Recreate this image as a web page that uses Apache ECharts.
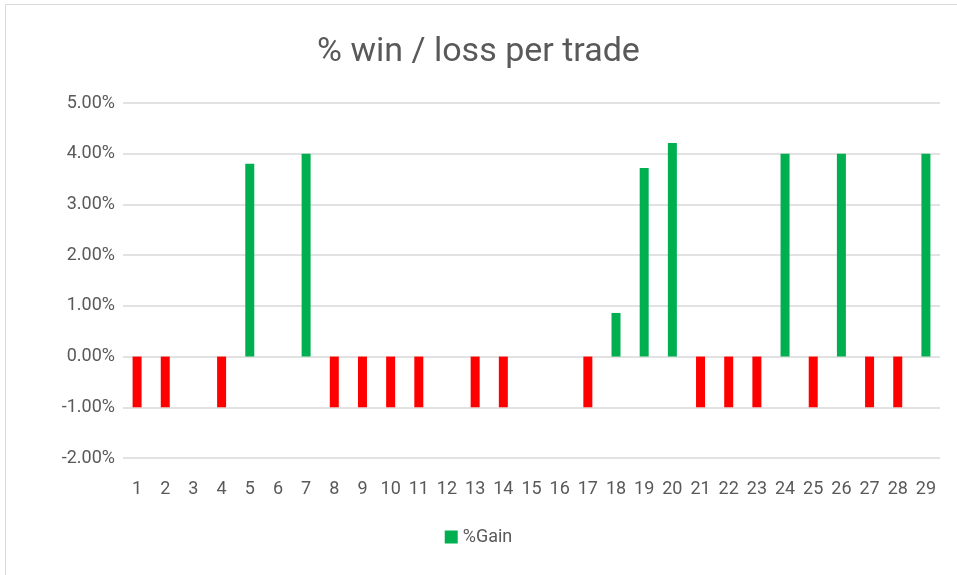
<!DOCTYPE html>
<html>
<head>
<meta charset="utf-8">
<script src="https://cdn.jsdelivr.net/npm/echarts@6/dist/echarts.min.js"></script>
<style>
  html, body { margin: 0; padding: 0; background: #fff; }
  #main { width: 957px; height: 575px; }
</style>
</head>
<body>
<div id="main"></div>
<script>
// trade numbers
const trades = ['1','2','3','4','5','6','7','8','9','10','11','12','13','14','15',
  '16','17','18','19','20','21','22','23','24','25','26','27','28','29'];
// % gain per trade
const gain = [-1, -1, 0, -1, 3.8, 0, 4.0, -1, -1, -1, -1, 0, -1, -1, 0,
  0, -1, 0.86, 3.72, 4.21, -1, -1, -1, 4.0, -1, 4.0, -1, -1, 4.0];

const chart = echarts.init(document.getElementById('main'));

chart.setOption({
  animation: false,
  textStyle: { fontFamily: 'Roboto, sans-serif' },
  title: {
    text: '% win / loss per trade',
    left: 'center',
    top: 30,
    textStyle: { fontSize: 34, fontWeight: 'normal', color: '#595959', fontFamily: 'Roboto, sans-serif' }
  },
  graphic: [{
    type: 'rect',
    shape: { x: 5.5, y: 4.5, width: 960, height: 580 },
    style: { fill: 'none', stroke: '#d9d9d9', lineWidth: 1 },
    silent: true
  }],
  legend: {
    bottom: 24,
    left: 'center',
    itemWidth: 13,
    itemHeight: 13,
    itemGap: 8,
    icon: 'rect',
    textStyle: { fontSize: 18, color: '#595959' },
    data: ['%Gain']
  },
  grid: { left: 123, right: 17, top: 103, bottom: 117 },
  xAxis: {
    type: 'category',
    data: trades,
    axisLine: { show: false },
    axisTick: { show: false },
    axisLabel: { interval: 0, fontSize: 18, color: '#595959', margin: 22 }
  },
  yAxis: {
    type: 'value',
    min: -2,
    max: 5,
    interval: 1,
    axisLine: { show: false },
    axisTick: { show: false },
    axisLabel: {
      fontSize: 18, color: '#595959', margin: 8,
      formatter: v => v.toFixed(2) + '%'
    },
    splitLine: { lineStyle: { color: '#d9d9d9', width: 1.5 } }
  },
  series: [{
    name: '%Gain',
    type: 'bar',
    data: gain,
    barWidth: 9,
    itemStyle: {
      color: p => (p.value < 0 ? '#ff0000' : '#00b050')
    }
  }],
  color: ['#00b050']
});
</script>
</body>
</html>
